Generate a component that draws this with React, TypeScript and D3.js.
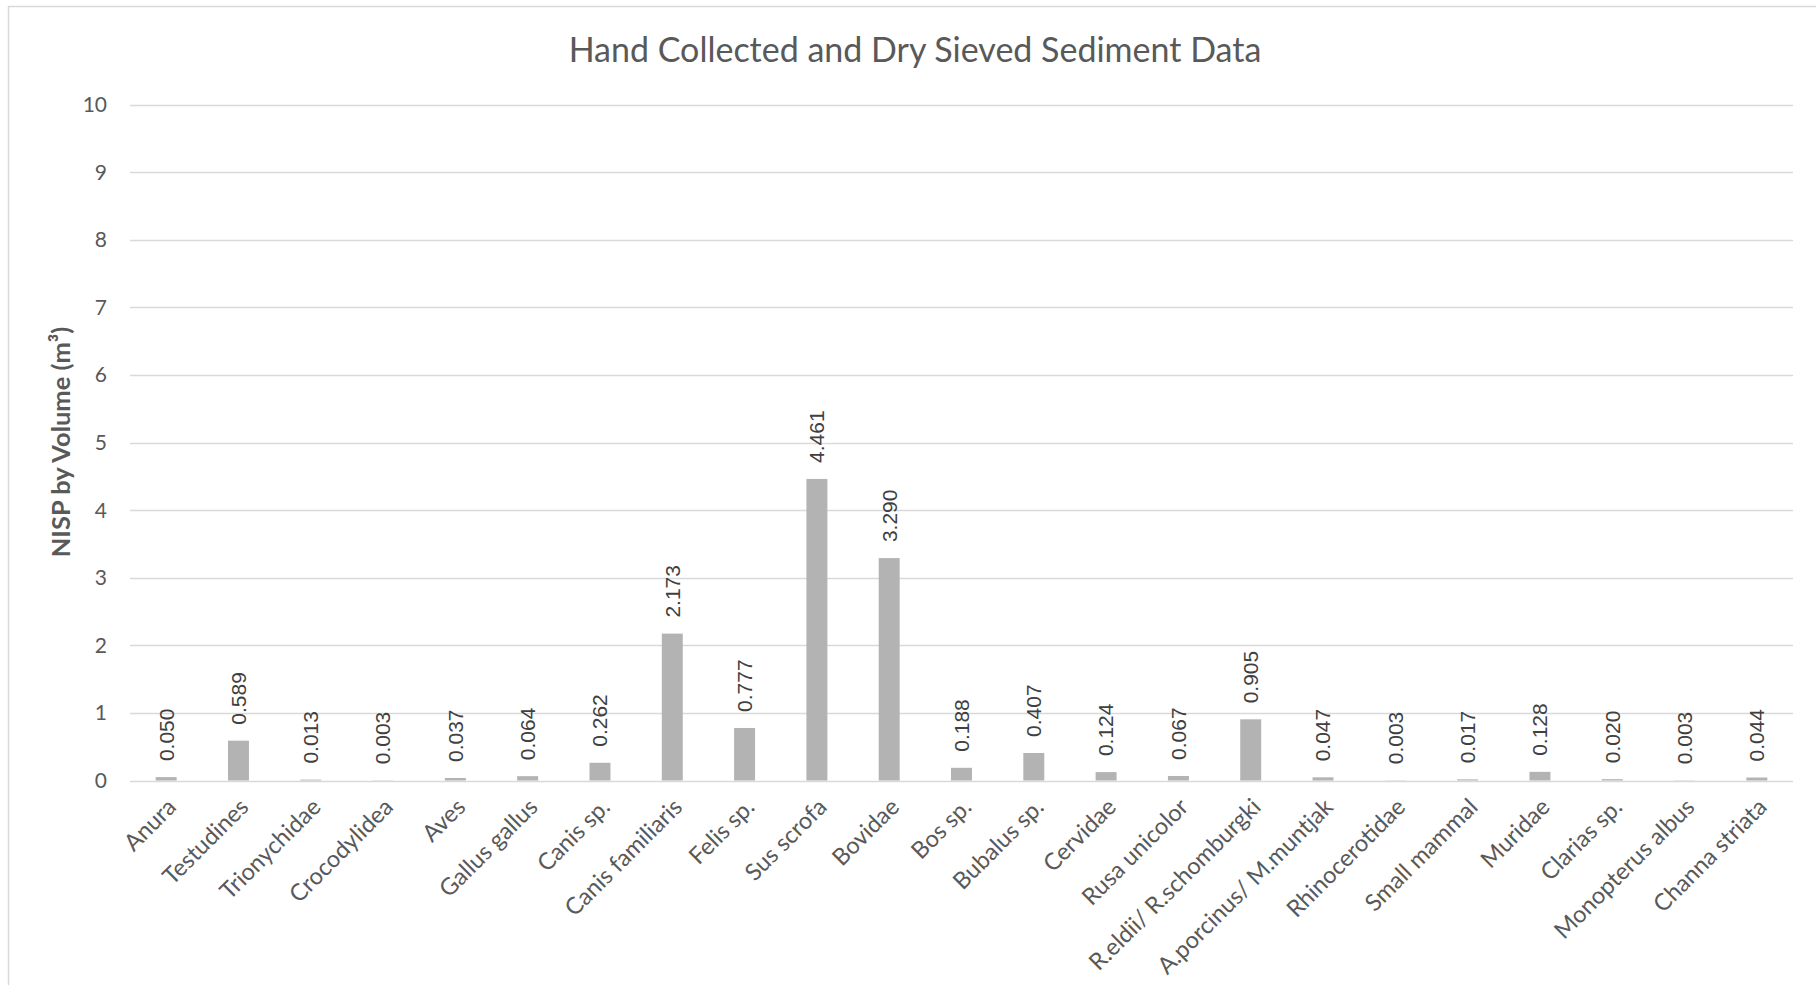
import React, { useEffect, useRef } from 'react';
import * as d3 from 'd3';

const categories = [
    'Anura', 'Testudines', 'Trionychidae', 'Crocodylidea', 'Aves', 'Gallus gallus',
    'Canis sp.', 'Canis familiaris', 'Felis sp.', 'Sus scrofa', 'Bovidae', 'Bos sp.',
    'Bubalus sp.', 'Cervidae', 'Rusa unicolor', 'R.eldii/ R.schomburgki',
    'A.porcinus/ M.muntjak', 'Rhinocerotidae', 'Small mammal', 'Muridae',
    'Clarias sp.', 'Monopterus albus', 'Channa striata',
];

const values = [
    0.05, 0.589, 0.013, 0.003, 0.037, 0.064,
    0.262, 2.173, 0.777, 4.461, 3.29, 0.188,
    0.407, 0.124, 0.067, 0.905,
    0.047, 0.003, 0.017, 0.128,
    0.02, 0.003, 0.044,
];

const yTicks = [0, 1, 2, 3, 4, 5, 6, 7, 8, 9, 10];

const title = 'Hand Collected and Dry Sieved Sediment Data';
const yTitle = 'NISP by Volume (m³)';

const W = 1816;
const H = 985;

const App: React.FC = () => {
    const svgRef = useRef<SVGSVGElement | null>(null);

    useEffect(() => {
        if (!svgRef.current) return;
        const svg = d3.select(svgRef.current);
        svg.selectAll('*').remove();

        const font = 'Lato, Calibri, sans-serif';
        const left = 130;
        const right = 1793;

        const x = d3.scaleBand<string>()
            .domain(categories)
            .range([left, right])
            .paddingInner(0.71)
            .paddingOuter(0.355);

        const y = d3.scaleLinear().domain([0, 10]).range([780.5, 104.5]);

        // chart border (only left and top edges are inside the picture)
        svg.append('path')
            .attr('d', `M8.5,${H} L8.5,6.5 L${W},6.5`)
            .attr('fill', 'none')
            .attr('stroke', '#d9d9d9')
            .attr('stroke-width', 1.5);

        // title
        svg.append('text')
            .attr('x', 915)
            .attr('y', 62)
            .attr('text-anchor', 'middle')
            .attr('font-family', font)
            .attr('font-size', 34)
            .attr('fill', '#595959')
            .text(title);

        // gridlines + y tick labels
        const grid = svg.append('g');
        grid.selectAll('line')
            .data(yTicks)
            .enter()
            .append('line')
            .attr('x1', left)
            .attr('x2', right)
            .attr('y1', (d) => Math.round(y(d)) + 0.5)
            .attr('y2', (d) => Math.round(y(d)) + 0.5)
            .attr('stroke', '#d9d9d9')
            .attr('stroke-width', 1.3);

        grid.selectAll('text')
            .data(yTicks)
            .enter()
            .append('text')
            .attr('x', 107)
            .attr('y', (d) => y(d))
            .attr('dy', '0.36em')
            .attr('text-anchor', 'end')
            .attr('font-family', font)
            .attr('font-size', 21)
            .attr('fill', '#595959')
            .text((d) => d);

        // y axis title
        svg.append('text')
            .attr('transform', 'translate(61,442) rotate(-90)')
            .attr('dy', '0.35em')
            .attr('text-anchor', 'middle')
            .attr('font-family', font)
            .attr('font-weight', 'bold')
            .attr('font-size', 25.5)
            .attr('fill', '#595959')
            .text(yTitle);

        const rows = categories.map((c, i) => ({ c, v: values[i] }));

        // bars
        svg.append('g')
            .selectAll('rect')
            .data(rows)
            .enter()
            .append('rect')
            .attr('x', (d) => x(d.c) as number)
            .attr('width', x.bandwidth())
            .attr('y', (d) => y(d.v))
            .attr('height', (d) => y(0) - y(d.v))
            .attr('fill', '#b3b3b3');

        // data labels
        svg.append('g')
            .selectAll('text')
            .data(rows)
            .enter()
            .append('text')
            .attr('transform', (d) => `translate(${(x(d.c) as number) + x.bandwidth() / 2},${y(d.v) - 16}) rotate(-90)`)
            .attr('dy', '0.35em')
            .attr('text-anchor', 'start')
            .attr('font-family', 'Liberation Sans, Arial, sans-serif')
            .attr('font-size', 21)
            .attr('fill', '#404040')
            .text((d) => d3.format('.3f')(d.v));

        // category labels
        svg.append('g')
            .selectAll('text')
            .data(categories)
            .enter()
            .append('text')
            .attr('transform', (d) => `translate(${(x(d) as number) + x.bandwidth() / 2 - 1},796) rotate(-45)`)
            .attr('dy', '0.75em')
            .attr('text-anchor', 'end')
            .attr('font-family', font)
            .attr('font-size', 23.5)
            .attr('fill', '#595959')
            .text((d) => d);
    }, []);

    return (
        <svg
            ref={svgRef}
            width={W}
            height={H}
            style={{ position: 'absolute', left: 0, top: 0, background: '#fff' }}
        ></svg>
    );
};

export default App;
